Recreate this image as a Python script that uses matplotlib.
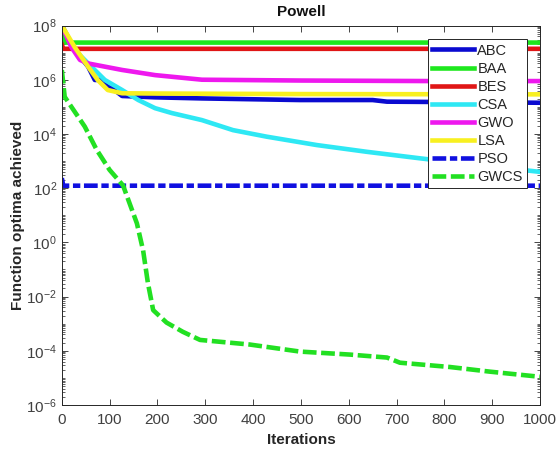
import numpy as np
import matplotlib
matplotlib.use('Agg')
import matplotlib.pyplot as plt
from matplotlib.ticker import FixedLocator, LogFormatterMathtext, NullFormatter

plt.rcParams['font.family'] = 'Liberation Sans'
plt.rcParams['font.size'] = 10
plt.rcParams['mathtext.fontset'] = 'custom'
plt.rcParams['mathtext.rm'] = 'Liberation Sans'
plt.rcParams['mathtext.it'] = 'Liberation Sans:italic'
plt.rcParams['mathtext.bf'] = 'Liberation Sans:bold'

# convergence curves (iteration, log10 of best value)
abc_x = [0, 27, 55, 69, 83, 96, 110, 126, 195, 293, 498, 650, 680, 770, 1000]
abc_y = [8.0, 7.1, 6.48, 5.99, 6.0, 5.74, 5.62, 5.4, 5.35, 5.31, 5.25, 5.25, 5.19, 5.18, 5.15]

baa_x = [0, 5, 1000]
baa_y = [8.0, 7.37, 7.37]

bes_x = [0, 3, 1000]
bes_y = [7.3, 7.14, 7.14]

csa_x = [0, 27, 55, 90, 126, 160, 195, 230, 293, 358, 428, 533, 638, 749, 870, 1000]
csa_y = [8.0, 7.1, 6.6, 5.99, 5.62, 5.25, 4.95, 4.77, 4.51, 4.14, 3.9, 3.59, 3.34, 3.1, 2.85, 2.6]

gwo_x = [0, 20, 38, 55, 126, 195, 293, 500, 770, 1000]
gwo_y = [8.0, 7.2, 6.73, 6.6, 6.36, 6.17, 6.0, 5.97, 5.95, 5.95]

lsa_x = [0, 27, 55, 75, 96, 126, 200, 500, 1000]
lsa_y = [8.0, 7.2, 6.48, 5.99, 5.62, 5.5, 5.49, 5.47, 5.46]

pso_x = [0, 3, 1000]
pso_y = [2.37, 2.09, 2.09]

gwcs_x = [0, 6, 20, 48, 73, 100, 128, 157, 170, 180, 191, 219, 253, 289,
          393, 498, 602, 680, 707, 812, 895, 1000]
gwcs_y = [6.36, 5.37, 5.0, 4.27, 3.41, 2.67, 2.1, 0.7, -0.3, -1.5, -2.5, -2.96, -3.3, -3.6,
          -3.77, -4.03, -4.14, -4.25, -4.44, -4.6, -4.77, -4.96]

names = ['ABC', 'BAA', 'BES', 'CSA', 'GWO', 'LSA', 'PSO', 'GWCS']
colors = ['#0a0ad0', '#1ee81e', '#e01616', '#2ee8f4', '#ee18ee', '#f8f020', '#1010e0', '#22e022']

series = [(abc_x, abc_y), (baa_x, baa_y), (bes_x, bes_y), (csa_x, csa_y),
          (gwo_x, gwo_y), (lsa_x, lsa_y), (pso_x, pso_y), (gwcs_x, gwcs_y)]

fig = plt.figure(figsize=(5.57, 4.53), dpi=100)
ax = fig.add_axes([0.111, 0.106, 0.8585, 0.8377])

for (xs, ys), name, c in zip(series, names, colors):
    yv = 10.0 ** np.array(ys)
    if name == 'PSO':
        ax.plot(xs, yv, color=c, lw=3.3, dashes=(3, 0.8, 1.6, 0.8), label=name)
    elif name == 'GWCS':
        ax.plot(xs, yv, color=c, lw=3.3, dashes=(3, 1), label=name)
    else:
        ax.plot(xs, yv, color=c, lw=3.3, label=name)

ax.set_yscale('log')
ax.set_xlim(0, 1000)
ax.set_ylim(1e-6, 1e8)
ax.set_xticks(np.arange(0, 1001, 100))
ax.yaxis.set_major_locator(FixedLocator([10.0 ** k for k in range(-6, 9, 2)]))
ax.yaxis.set_major_formatter(LogFormatterMathtext())
minors = [m * 10.0 ** k for k in range(-6, 8) for m in range(1, 10)
          if not (m == 1 and k % 2 == 0)]
ax.yaxis.set_minor_locator(FixedLocator(minors))
ax.yaxis.set_minor_formatter(NullFormatter())

ax.tick_params(which='both', direction='in', top=True, right=True, colors='#262626',
               labelcolor='#404040', labelsize=11)
ax.tick_params(which='major', length=4, width=0.6)
ax.tick_params(which='minor', length=2, width=0.5)
ax.tick_params(axis='x', which='minor', length=0)
ax.tick_params(axis='x', which='major', pad=6)
for s in ax.spines.values():
    s.set_color('#262626')
    s.set_linewidth(0.7)

ax.set_xlabel('Iterations', fontsize=11, fontweight='bold', color='#262626', labelpad=4)
ax.set_ylabel('Function optima achieved', fontsize=11, fontweight='bold', color='#262626',
              labelpad=1)
ax.set_title('Powell', fontsize=11, fontweight='bold', color='#111111', pad=7)

leg = ax.legend(loc='upper right', bbox_to_anchor=(0.973, 0.964), borderaxespad=0,
                fontsize=10.5, handlelength=2.9, labelspacing=0.28, handletextpad=0.2,
                borderpad=0.3, fancybox=False, framealpha=1, edgecolor='#262626')
leg.get_frame().set_linewidth(0.7)
for t in leg.get_texts():
    t.set_color('#262626')

fig.savefig('out.png', dpi=100)
